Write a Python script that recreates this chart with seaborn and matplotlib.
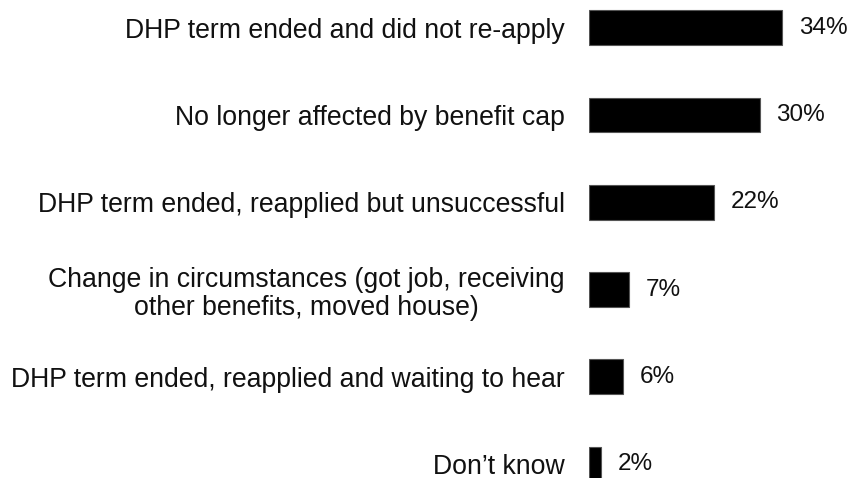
import matplotlib
matplotlib.use("Agg")
import matplotlib.pyplot as plt
import seaborn as sns
import pandas as pd

reasons = [
    "DHP term ended and did not re-apply",
    "No longer affected by benefit cap",
    "DHP term ended, reapplied but unsuccessful",
    "Change in circumstances (got job, receiving\nother benefits, moved house)",
    "DHP term ended, reapplied and waiting to hear",
    "Don\u2019t know",
]
shares = [34, 30, 22, 7, 6, 2]

df = pd.DataFrame({"reason": reasons, "share": shares})

sns.set_theme(style="white")
plt.rcParams["font.family"] = ["Liberation Sans", "DejaVu Sans"]

W, H = 854, 478
fig = plt.figure(figsize=(W / 100, H / 100), dpi=100)

# axes: bars start at x=589px, rows spaced ~87px starting at y=28px
left_px = 589.3
px_per_pct = 5.68
row0_px, row_step = 27.7, 87.3
ax = fig.add_axes([left_px / W, 0, (W - left_px) / W, 1])

sns.barplot(data=df, x="share", y="reason", orient="h", color="black",
            edgecolor="#555555", linewidth=0.8, width=0.4, saturation=1, ax=ax)

ax.set_xlim(0, (W - left_px) / px_per_pct)
ax.set_ylim((H - row0_px) / row_step, -row0_px / row_step)

for c in ax.containers:
    ax.bar_label(c, labels=[f"{v}%" for v in shares], padding=12,
                 fontsize=17.5, color="#111111")

ax.set_xlabel("")
ax.set_ylabel("")
ax.set_xticks([])
ax.tick_params(axis="y", length=0, pad=17.5, labelsize=19.2, labelcolor="#111111")
for lbl in ax.get_yticklabels():
    lbl.set_multialignment("center")
    lbl.set_linespacing(1.12)
sns.despine(ax=ax, left=True, bottom=True)

fig.savefig("out.png", dpi=100, facecolor="white")
